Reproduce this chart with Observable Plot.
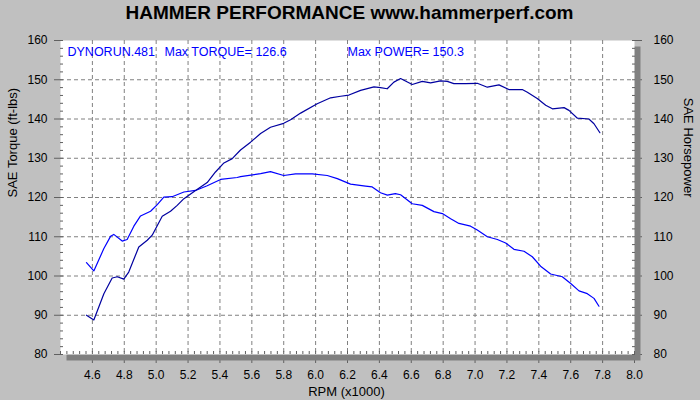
<!DOCTYPE html>
<html>
<head>
<meta charset="utf-8">
<script src="https://cdn.jsdelivr.net/npm/d3@7"></script>
<script src="https://cdn.jsdelivr.net/npm/@observablehq/plot@0.6"></script>
<style>
  html, body { margin: 0; padding: 0; background: #c0c0c0; }
  #chart svg { display: block; }
</style>
</head>
<body>
<div id="chart"></div>
<script>
const title = "HAMMER PERFORMANCE www.hammerperf.com";
const runLabel = "DYNORUN.481";
const torqueLabel = "Max TORQUE= 126.6";
const powerLabel = "Max POWER= 150.3";
const xLabel = "RPM (x1000)";
const yLeftLabel = "SAE Torque (ft-lbs)";
const yRightLabel = "SAE Horsepower";

const torqueRpm = [4.563,4.609,4.672,4.714,4.734,4.787,4.818,4.860,4.902,4.965,5.007,5.048,5.100,5.174,5.247,5.320,5.404,5.508,5.529,5.655,5.717,5.800,5.874,5.979,6.073,6.136,6.219,6.313,6.355,6.407,6.450,6.500,6.533,6.606,6.669,6.742,6.795,6.847,6.899,6.972,7.014,7.077,7.140,7.192,7.244,7.307,7.359,7.411,7.474,7.547,7.600,7.652,7.704,7.746,7.777];
const torqueVals = [103.4,101.3,107.0,110.1,110.6,108.9,109.3,112.7,115.3,116.5,118.2,120.1,120.2,121.4,121.8,123.0,124.6,125.1,125.3,126.1,126.6,125.6,126.0,126.0,125.6,124.8,123.4,122.9,122.7,121.2,120.6,121.0,120.7,118.4,118.0,116.4,115.9,114.6,113.4,112.7,111.7,110.0,109.3,108.4,106.8,106.3,104.9,102.5,100.5,99.8,98.1,96.2,95.5,94.3,92.3];

const powerRpm = [4.563,4.609,4.672,4.724,4.756,4.797,4.828,4.891,4.944,4.975,5.038,5.090,5.132,5.174,5.247,5.320,5.372,5.425,5.477,5.529,5.592,5.655,5.717,5.800,5.843,5.906,6.010,6.094,6.157,6.209,6.282,6.366,6.407,6.449,6.491,6.533,6.606,6.669,6.721,6.784,6.826,6.867,6.940,7.014,7.077,7.150,7.212,7.296,7.328,7.390,7.443,7.485,7.558,7.589,7.642,7.714,7.746,7.783];
const powerVals = [90.0,88.8,95.5,99.5,99.8,99.2,101.0,107.4,109.1,110.4,115.2,116.5,118.0,119.7,121.8,123.8,126.5,128.8,129.9,132.1,134.1,136.3,137.9,138.9,139.8,141.5,143.9,145.4,145.8,146.1,147.3,148.2,148.0,147.7,149.4,150.3,148.8,149.6,149.2,149.7,149.6,149.0,149.0,149.1,148.1,148.7,147.5,147.5,146.8,145.2,143.5,142.6,142.9,142.2,140.2,140.0,138.8,136.5];

const xTickLabels = [4.6,4.8,5.0,5.2,5.4,5.6,5.8,6.0,6.2,6.4,6.6,6.8,7.0,7.2,7.4,7.6,7.8,8.0];
const xGrid = [4.6,4.8,5.0,5.2,5.4,5.6,5.8,6.0,6.2,6.4,6.6,6.8,7.0,7.2,7.4,7.6,7.8];
const yTickLabels = [80,90,100,110,120,130,140,150,160];
const yGrid = [90,100,110,120,130,140,150];
const xMinor = d3.range(0, 91).map(i => +(4.4 + i * 0.04).toFixed(2));
const yMinor = d3.range(0, 41).map(i => 80 + i * 2);

const torque = torqueRpm.map((r, i) => ({rpm: r, v: torqueVals[i]}));
const power = powerRpm.map((r, i) => ({rpm: r, v: powerVals[i]}));

const font = "'Liberation Sans', Arial, sans-serif";

const chart = Plot.plot({
  width: 700,
  height: 400,
  marginLeft: 60,
  marginRight: 66,
  marginTop: 40,
  marginBottom: 46,
  style: {background: "#c0c0c0", fontFamily: font, fontSize: "12px", color: "#000"},
  x: {domain: [4.4, 8.0]},
  y: {domain: [80, 160]},
  marks: [
    Plot.axisY({anchor: "left", ticks: yTickLabels, tickSize: 6, tickPadding: 7, stroke: "#606060", fill: "#000", fontSize: 12, label: null}),
    Plot.axisY({anchor: "right", ticks: yTickLabels, tickSize: 7, tickPadding: 12, stroke: "#606060", fill: "#000", fontSize: 12, label: null}),
    Plot.axisX({anchor: "bottom", ticks: xTickLabels, tickSize: 9, tickPadding: 7, stroke: "#606060", fill: "#000", fontSize: 12,
      tickFormat: d3.format(".1f"), label: null}),
    Plot.frame({fill: "#808080", stroke: "none", dx: 6, dy: 6}),
    Plot.frame({fill: "#ffffff", stroke: "none"}),
    Plot.ruleX(xGrid, {stroke: "#808080", strokeDasharray: "4,3"}),
    Plot.ruleY(yGrid, {stroke: "#808080", strokeDasharray: "4,3"}),
    Plot.axisX({anchor: "bottom", ticks: xMinor, tickSize: 3, dy: -3, text: null, label: null, stroke: "#606060"}),
    Plot.axisY({anchor: "left", ticks: yMinor, tickSize: 3, dx: 3, text: null, label: null, stroke: "#606060"}),
    Plot.axisY({anchor: "right", ticks: yMinor, tickSize: 3, dx: -3, text: null, label: null, stroke: "#606060"}),
    Plot.line(torque, {x: "rpm", y: "v", stroke: "#0000ff", strokeWidth: 1.2}),
    Plot.line(power, {x: "rpm", y: "v", stroke: "#0000a0", strokeWidth: 1.2}),
    Plot.text([runLabel], {text: d => d, frameAnchor: "top-left", dx: 7, dy: 11, textAnchor: "start", lineAnchor: "middle", fill: "#0000ff", fontSize: 12.5}),
    Plot.text([torqueLabel], {text: d => d, frameAnchor: "top-left", dx: 104, dy: 11, textAnchor: "start", lineAnchor: "middle", fill: "#0000ff", fontSize: 12.5}),
    Plot.text([powerLabel], {text: d => d, frameAnchor: "top-left", dx: 287, dy: 11, textAnchor: "start", lineAnchor: "middle", fill: "#0000ff", fontSize: 12.5}),
    Plot.text([title], {text: d => d, frameAnchor: "top", dx: 2, dy: -28, lineAnchor: "middle", fill: "#000", fontSize: 19, fontWeight: "bold"}),
    Plot.text([xLabel], {text: d => d, frameAnchor: "bottom", dx: -1, dy: 37, lineAnchor: "middle", fill: "#000", fontSize: 13}),
    Plot.text([yLeftLabel], {text: d => d, frameAnchor: "left", dx: -48, rotate: -90, lineAnchor: "middle", fill: "#000", fontSize: 13}),
    Plot.text([yRightLabel], {text: d => d, frameAnchor: "right", dx: 54, rotate: 90, lineAnchor: "middle", fill: "#000", fontSize: 13})
  ]
});
document.getElementById("chart").appendChild(chart);
</script>
</body>
</html>
